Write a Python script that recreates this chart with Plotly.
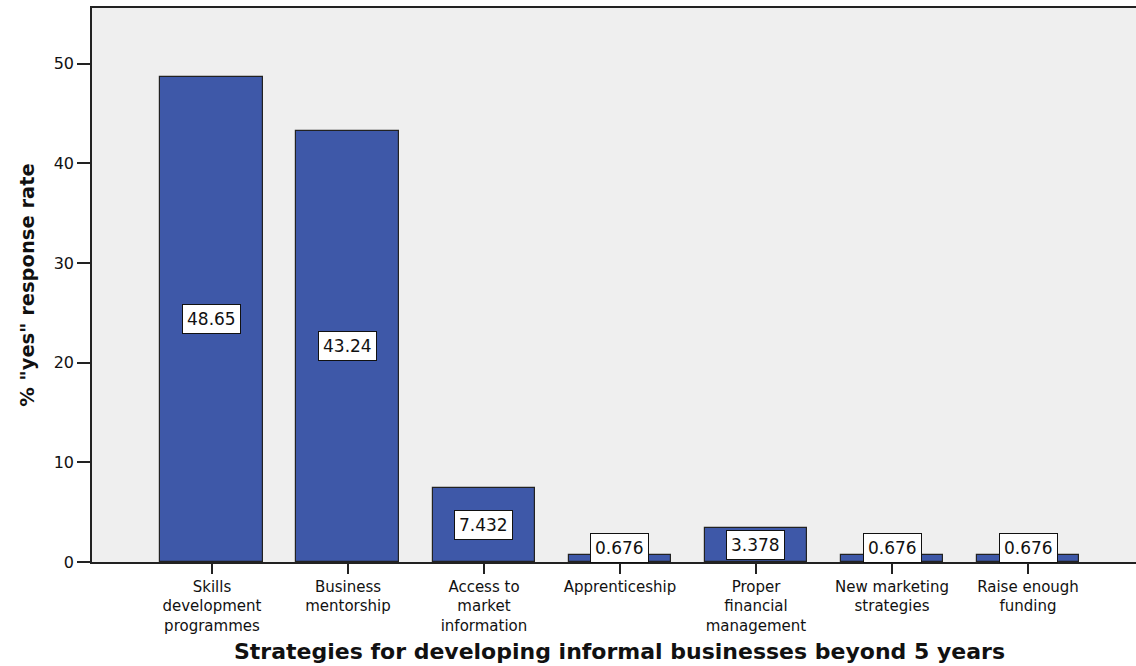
import plotly.graph_objects as go

# Strategy categories and the share of "yes" responses (%)
categories = [
    "Skills development programmes",
    "Business mentorship",
    "Access to market information",
    "Apprenticeship",
    "Proper financial management",
    "New marketing strategies",
    "Raise enough funding",
]
tick_labels = [
    "Skills<br>development<br>programmes",
    "Business<br>mentorship",
    "Access to<br>market<br>information",
    "Apprenticeship",
    "Proper<br>financial<br>management",
    "New marketing<br>strategies",
    "Raise enough<br>funding",
]
values = [48.65, 43.24, 7.432, 0.676, 3.378, 0.676, 0.676]
value_text = ["48.65", "43.24", "7.432", "0.676", "3.378", "0.676", "0.676"]

y_ticks = [0, 10, 20, 30, 40, 50]

FONT = "DejaVu Sans"
BAR_FILL = "#3E58A8"
LINE = "#222222"
TEXT = "#111111"

PLOT_TOP, PLOT_BOTTOM = 8, 562
PLOT_H = PLOT_BOTTOM - PLOT_TOP

x_pos = list(range(len(categories)))

fig = go.Figure()
fig.add_trace(
    go.Bar(
        x=x_pos,
        y=values,
        width=0.757,
        marker=dict(color=BAR_FILL, line=dict(color=LINE, width=1.2)),
        hoverinfo="skip",
        showlegend=False,
    )
)

# value labels: boxed, centred in the bar (kept clear of the baseline)
for xi, v, t in zip(x_pos, values, value_text):
    fig.add_annotation(
        x=xi,
        y=max(v / 2, 1.45),
        xref="x",
        yref="y",
        text=t,
        showarrow=False,
        font=dict(family=FONT, size=17, color=TEXT),
        bgcolor="white",
        bordercolor=TEXT,
        borderwidth=1,
        borderpad=4,
    )

# x-axis title centred under the middle category
fig.add_annotation(
    x=3,
    y=(PLOT_BOTTOM - 651) / PLOT_H,
    xref="x",
    yref="paper",
    text="<b>Strategies for developing informal businesses beyond 5 years</b>",
    showarrow=False,
    font=dict(family=FONT, size=22, color=TEXT),
    yanchor="middle",
)

fig.update_layout(
    width=1136,
    height=666,
    margin=dict(l=92, r=0, t=PLOT_TOP, b=666 - PLOT_BOTTOM),
    paper_bgcolor="white",
    plot_bgcolor="#EFEFEF",
    bargap=0,
    xaxis=dict(
        range=[-0.882, 6.794],
        tickmode="array",
        tickvals=x_pos,
        ticktext=tick_labels,
        tickfont=dict(family=FONT, size=15, color=TEXT),
        ticks="outside",
        ticklen=10,
        tickwidth=1.5,
        tickcolor=LINE,
        showline=True,
        linecolor=LINE,
        linewidth=1.5,
        mirror=True,
        showgrid=False,
        zeroline=False,
        fixedrange=True,
    ),
    yaxis=dict(
        range=[0, 55.57],
        tickmode="array",
        tickvals=y_ticks,
        ticks="outside",
        ticklen=13,
        tickwidth=1.5,
        tickcolor=LINE,
        tickfont=dict(family=FONT, size=16, color=TEXT),
        showline=True,
        linecolor=LINE,
        linewidth=1.5,
        showgrid=False,
        zeroline=False,
        title=dict(
            text="<b>% \"yes\" response rate</b>",
            font=dict(family=FONT, size=19.5, color=TEXT),
            standoff=14,
        ),
        fixedrange=True,
    ),
)

fig.write_html("out.html")
